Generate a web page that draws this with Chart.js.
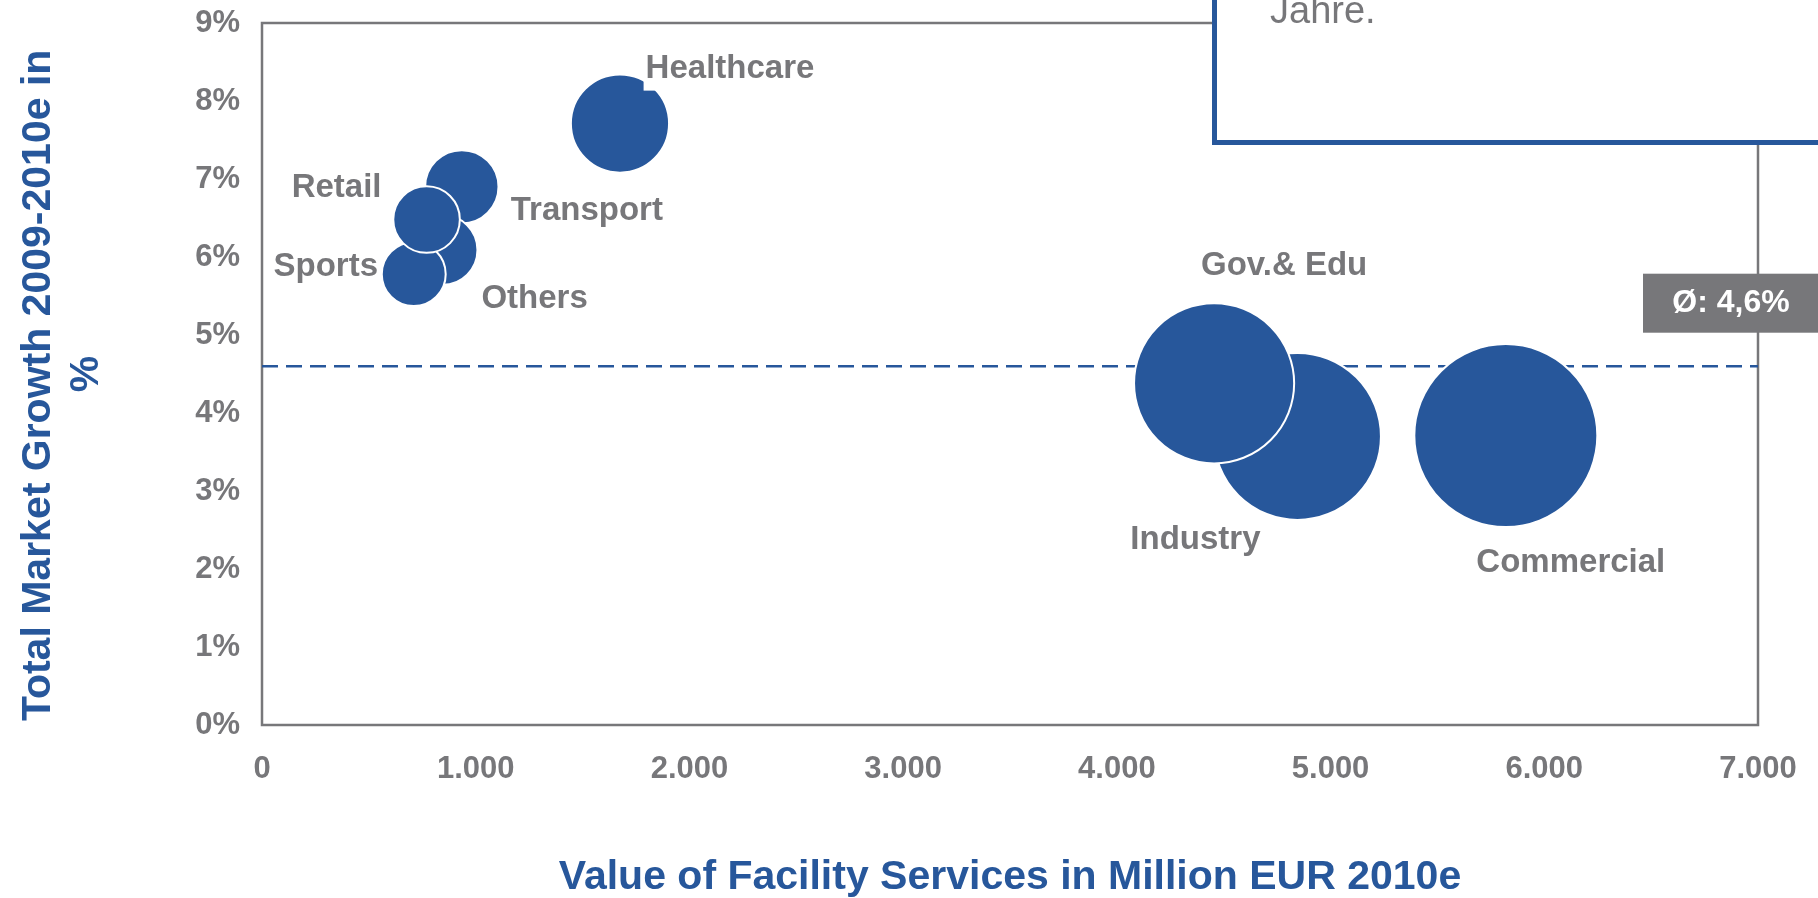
<!DOCTYPE html>
<html>
<head>
<meta charset="utf-8">
<title>Facility Services - market growth vs. value</title>
<script src="https://cdn.jsdelivr.net/npm/chart.js@4.4.1/dist/chart.umd.min.js"></script>
<style>
  html, body { margin: 0; padding: 0; background: #fff; }
  #wrap { width: 1818px; height: 898px; }
</style>
</head>
<body>
<div id="wrap"><canvas id="chart" width="1818" height="898"></canvas></div>
<script>
// segments, in drawing order (later ones sit on top of earlier ones)
var segments = ['Commercial', 'Industry', 'Gov.& Edu', 'Healthcare', 'Transport', 'Others', 'Sports', 'Retail'];
// value of facility services, million EUR 2010e (also drives the bubble area)
var serviceValue = [5820, 4845, 4455, 1675, 935, 845, 710, 770];
// total market growth 2009-2010e in %
var marketGrowth = [3.71, 3.70, 4.38, 7.71, 6.90, 6.09, 5.78, 6.48];
var averageGrowth = 4.6;
var averageLabel = 'Ø: 4,6%';

var xTicks = [0, 1000, 2000, 3000, 4000, 5000, 6000, 7000];
var xTickLabels = ['0', '1.000', '2.000', '3.000', '4.000', '5.000', '6.000', '7.000'];
var yTicks = [0, 1, 2, 3, 4, 5, 6, 7, 8, 9];
var yTickLabels = ['0%', '1%', '2%', '3%', '4%', '5%', '6%', '7%', '8%', '9%'];

var calloutText = 'Jahre.';

// styling
var BLUE = '#27579b';
var GRAY = '#77777a';
var FONT = "'Liberation Sans', Arial, sans-serif";
var MAX_RADIUS = 91.5;
// label placement relative to the bubble centre (px)
var labelOffset = {
    'Commercial': [65, 124],
    'Industry': [-102, 101],
    'Gov.& Edu': [70, -120],
    'Healthcare': [110, -58],
    'Transport': [125, 21],
    'Others': [92, 46],
    'Sports': [-88, -10],
    'Retail': [-90, -35]
};

var maxValue = Math.max.apply(null, serviceValue);
var bubbles = segments.map(function(name, i) {
    return {
        x: serviceValue[i],
        y: marketGrowth[i],
        r: MAX_RADIUS * Math.sqrt(serviceValue[i] / maxValue)
    };
});

var framePlugin = {
    id: 'frame',
    beforeDatasetsDraw: function(chart) {
        var a = chart.chartArea, ctx = chart.ctx;
        ctx.save();
        ctx.strokeStyle = GRAY;
        ctx.lineWidth = 2.5;
        ctx.strokeRect(a.left, a.top, a.right - a.left, a.bottom - a.top);
        ctx.restore();
    }
};

var labelPlugin = {
    id: 'bubbleLabels',
    afterDatasetsDraw: function(chart) {
        var ctx = chart.ctx;
        var meta = chart.getDatasetMeta(1);
        ctx.save();
        ctx.font = 'bold 33px ' + FONT;
        ctx.textAlign = 'center';
        ctx.textBaseline = 'alphabetic';
        meta.data.forEach(function(el, i) {
            var name = segments[i];
            var off = labelOffset[name];
            var cx = el.x + off[0], cy = el.y + off[1];
            var w = ctx.measureText(name).width;
            ctx.fillStyle = '#fff';
            ctx.fillRect(cx - w / 2 - 2, cy - 22, w + 4, 47);
            ctx.fillStyle = GRAY;
            ctx.fillText(name, cx, cy + 12);
        });
        ctx.restore();
    }
};

var overlayPlugin = {
    id: 'overlay',
    afterDraw: function(chart) {
        var ctx = chart.ctx;
        var yScale = chart.scales.y;
        ctx.save();

        // average tag to the right of the dashed line
        var ly = yScale.getPixelForValue(averageGrowth) - 63;
        ctx.fillStyle = GRAY;
        ctx.fillRect(1643, ly - 29.5, chart.width - 1643, 59);
        ctx.fillStyle = '#fff';
        ctx.font = 'bold 32px ' + FONT;
        ctx.textAlign = 'center';
        ctx.textBaseline = 'middle';
        ctx.fillText(averageLabel, 1731, ly);

        // cropped call-out box at the top right
        ctx.fillStyle = '#fff';
        ctx.fillRect(1214.5, -20, 700, 162.5);
        ctx.strokeStyle = BLUE;
        ctx.lineWidth = 5;
        ctx.strokeRect(1214.5, -20, 700, 162.5);
        ctx.fillStyle = GRAY;
        ctx.font = '38px ' + FONT;
        ctx.textAlign = 'left';
        ctx.textBaseline = 'alphabetic';
        ctx.fillText(calloutText, 1270, 23);

        ctx.restore();
    }
};

new Chart(document.getElementById('chart'), {
    data: {
        datasets: [{
            type: 'line',
            data: [{x: xTicks[0], y: averageGrowth}, {x: xTicks[xTicks.length - 1], y: averageGrowth}],
            borderColor: BLUE,
            borderWidth: 2.5,
            borderDash: [16, 8],
            pointRadius: 0,
            fill: false,
            order: 2
        }, {
            type: 'bubble',
            data: bubbles,
            backgroundColor: BLUE,
            borderColor: '#fff',
            borderWidth: 2,
            hoverRadius: 0,
            order: 1
        }]
    },
    options: {
        responsive: false,
        animation: false,
        events: [],
        layout: {
            autoPadding: false,
            padding: { top: 23, right: 60, left: 0, bottom: 0 }
        },
        plugins: {
            legend: { display: false },
            tooltip: { enabled: false }
        },
        scales: {
            x: {
                type: 'linear',
                position: 'bottom',
                min: 0,
                max: 7000,
                grid: { display: false, drawTicks: false },
                border: { display: false },
                afterBuildTicks: function(scale) {
                    scale.ticks = xTicks.map(function(v) { return {value: v}; });
                },
                afterFit: function(scale) {
                    scale.height = 173;
                    scale.paddingLeft = 0;
                    scale.paddingRight = 0;
                },
                ticks: {
                    padding: 26,
                    maxRotation: 0,
                    autoSkip: false,
                    color: GRAY,
                    font: { family: FONT, size: 31, weight: 'bold' },
                    callback: function(v, i) { return xTickLabels[i]; }
                },
                title: {
                    display: true,
                    text: 'Value of Facility Services in Million EUR 2010e',
                    color: BLUE,
                    padding: 0,
                    font: { family: FONT, size: 41, weight: 'bold', lineHeight: 1 }
                }
            },
            y: {
                type: 'linear',
                position: 'left',
                min: 0,
                max: 9,
                grid: { display: false, drawTicks: false },
                border: { display: false },
                afterBuildTicks: function(scale) {
                    scale.ticks = yTicks.map(function(v) { return {value: v}; });
                },
                afterFit: function(scale) {
                    scale.width = 262;
                    scale.paddingTop = 0;
                    scale.paddingBottom = 0;
                },
                ticks: {
                    padding: 22,
                    autoSkip: false,
                    color: GRAY,
                    font: { family: FONT, size: 31, weight: 'bold' },
                    callback: function(v, i) { return yTickLabels[i]; }
                },
                title: {
                    display: true,
                    // trailing spaces nudge the long line down a little, as in the original
                    text: ['Total Market Growth 2009-2010e in\u00a0\u00a0', '%'],
                    color: BLUE,
                    padding: { top: 15, bottom: 0 },
                    font: { family: FONT, size: 41, weight: 'bold', lineHeight: 1.17 }
                }
            }
        }
    },
    plugins: [framePlugin, labelPlugin, overlayPlugin]
});
</script>
</body>
</html>
